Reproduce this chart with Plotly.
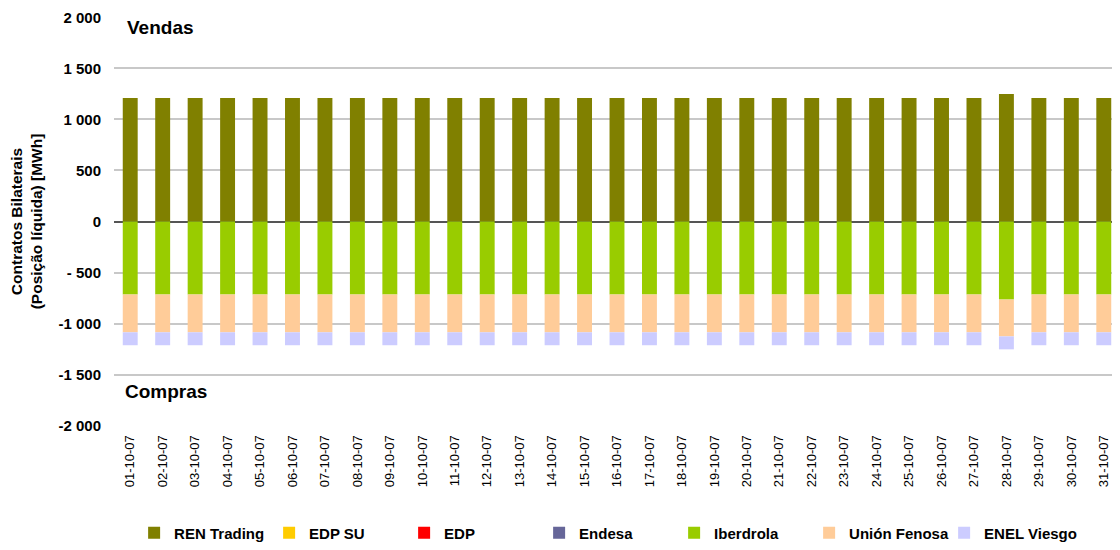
import plotly.graph_objects as go

# Daily bilateral contracts, October 2007 (MWh)
dates = ["%02d-10-07" % d for d in range(1, 32)]

ren_trading = [1210] * 27 + [1250] + [1210] * 3
edp_su = [0] * 31
edp = [0] * 31
endesa = [0] * 31
iberdrola = [-715] * 27 + [-765] + [-715] * 3
union_fenosa = [-370] * 27 + [-360] + [-370] * 3
enel_viesgo = [-127] * 31

y_ticks = [2000, 1500, 1000, 500, 0, -500, -1000, -1500, -2000]
y_labels = ["2 000", "1 500", "1 000", "500", "0", "- 500", "-1 000", "-1 500", "-2 000"]

series = [
    ("REN Trading", ren_trading, "#808000"),
    ("EDP SU", edp_su, "#FFCC00"),
    ("EDP", edp, "#FF0000"),
    ("Endesa", endesa, "#666699"),
    ("Iberdrola", iberdrola, "#99CC00"),
    ("Unión Fenosa", union_fenosa, "#FFCC99"),
    ("ENEL Viesgo", enel_viesgo, "#CCCCFF"),
]

fig = go.Figure()
for name, vals, color in series:
    fig.add_trace(go.Bar(x=dates, y=vals, name=name, marker_color=color,
                         marker_line_width=0))

plot_h = 409  # px height of plot area


def py(px_y):
    # screen pixel row -> paper y
    return (426 - px_y) / plot_h


# page body has an 8px margin, so the figure is a bit smaller than the window
fig.update_layout(
    barmode="relative",
    bargap=0.54,
    width=1112,
    height=542,
    margin=dict(l=106, r=0, t=9, b=124, autoexpand=False),
    plot_bgcolor="white",
    paper_bgcolor="white",
    font=dict(family="Liberation Sans, Arial, sans-serif", color="black"),
    showlegend=True,
    legend=dict(
        orientation="h",
        x=0.02, y=py(533),
        xanchor="left", yanchor="middle",
        entrywidth=90,
        itemwidth=30,
        tracegroupgap=0,
        font=dict(size=15, weight="bold"),
        itemclick=False,
    ),
    annotations=[
        dict(text="<b>Vendas</b>", x=0.011, y=py(28), xref="paper", yref="paper",
             showarrow=False, xanchor="left", yanchor="middle", font=dict(size=19)),
        dict(text="<b>Compras</b>", x=0.009, y=py(391), xref="paper", yref="paper",
             showarrow=False, xanchor="left", yanchor="middle", font=dict(size=19)),
    ],
)

fig.update_xaxes(
    type="category",
    tickangle=-90,
    tickfont=dict(size=13),
    showgrid=False,
    showline=False,
    ticks="outside",
    ticklen=3,
    tickcolor="white",
)
fig.update_yaxes(
    range=[-2003, 2003],
    tickvals=y_ticks,
    ticktext=y_labels,
    tickfont=dict(size=15, weight="bold"),
    showgrid=True,
    gridcolor="#C8C8C8",
    gridwidth=1.5,
    zeroline=True,
    zerolinecolor="#555555",
    zerolinewidth=2,
    ticks="outside",
    ticklen=9,
    tickcolor="white",
    title=dict(text="<b>Contratos Bilaterais<br>(Posição líquida) [MWh]</b>",
               font=dict(size=15.5), standoff=14),
)

fig.write_html("out.html")
